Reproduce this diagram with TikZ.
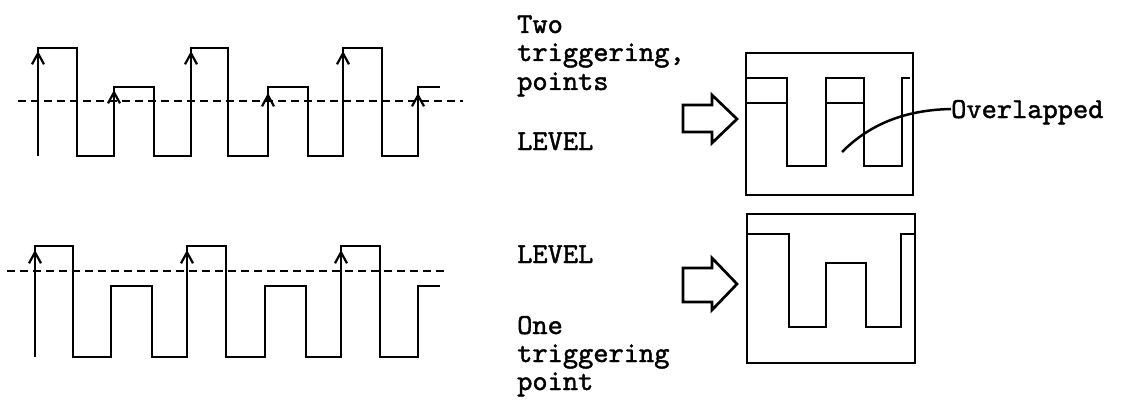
\documentclass[tikz,border=0pt]{standalone}
\usepackage{fontspec}
\newfontfamily\twfont{lmmono10-regular.otf}[FakeBold=1.5]
\usetikzlibrary{arrows.meta}
\begin{document}
\begin{tikzpicture}[x=1pt,y=-1pt,
  wave/.style={line width=2.5pt,line join=miter},
  lvl/.style={line width=2.5pt,dash pattern=on 8pt off 5pt},
  trig/.style={line width=2.5pt,-{Straight Barb[length=11pt,width=12pt,line width=2.2pt]}},
  frame/.style={line width=2.5pt},
  bigarrow/.style={line width=2.7pt,line join=miter},
  lbl/.style={anchor=base west,inner sep=0pt,font=\twfont\fontsize{29}{29}\selectfont},
  lead/.style={line width=2.5pt}]
\useasboundingbox (0,0) rectangle (1129,401);
% ---------- top waveform ----------
\draw[lvl] (18,101) -- (463,101);
\draw[wave] (38,156) -- (38,48) -- (77,48) -- (77,156) -- (114,156) -- (114,87) -- (154,87) -- (154,156)
  -- (191,156) -- (191,48) -- (228,48) -- (228,156) -- (268,156) -- (268,87) -- (308,87) -- (308,156)
  -- (343,156) -- (343,48) -- (382,48) -- (382,156) -- (418,156) -- (418,87) -- (440,87);
\draw[trig] (38,75) -- (38,51);
\draw[trig] (191,75) -- (191,51);
\draw[trig] (343,75) -- (343,51);
\draw[trig] (114,110) -- (114,90);
\draw[trig] (268,110) -- (268,93);
\draw[trig] (418,110) -- (418,93);
% ---------- bottom waveform ----------
\draw[lvl] (7,271) -- (447,271);
\draw[wave] (35,357) -- (35,246) -- (73,246) -- (73,357) -- (111,357) -- (111,286) -- (152,286) -- (152,357)
  -- (187,357) -- (187,246) -- (226,246) -- (226,357) -- (265,357) -- (265,286) -- (306,286) -- (306,357)
  -- (341,357) -- (341,246) -- (380,246) -- (380,357) -- (418,357) -- (418,286) -- (440,286);
\draw[trig] (35,275) -- (35,250);
\draw[trig] (187,275) -- (187,250);
\draw[trig] (341,275) -- (341,250);
% ---------- texts ----------
\node[lbl] (two) at (517,33) {Two};
\node[lbl] (trig1) at (517,61) {triggering,};
\node[lbl] (pts) at (517,90) {points};
\node[lbl] (lev1) at (517,150) {LEVEL};
\node[lbl] (lev2) at (517,263) {LEVEL};
\node[lbl] (one) at (517,334) {One};
\node[lbl] (trig2) at (517,362) {triggering};
\node[lbl] (pt) at (517,390) {point};
% ---------- block arrows ----------
\draw[bigarrow] (683,105) -- (712,105) -- (712,95) -- (737,119) -- (712,143) -- (712,132) -- (683,132) -- cycle;
\draw[bigarrow] (683,268) -- (712,268) -- (712,258) -- (737,284) -- (712,310) -- (712,302) -- (683,302) -- cycle;
% ---------- top screen ----------
\draw[frame] (746,53) rectangle (913,195);
\draw[wave] (746,78) -- (787,78) -- (787,166) -- (826,166) -- (826,78) -- (864,78) -- (864,166) -- (902,166) -- (902,78) -- (910,78);
\draw[wave] (746,103) -- (787,103);
\draw[wave] (826,103) -- (864,103);
\node[lbl] (ovl) at (951,118) {Overlapped};
\coordinate (ovlstart) at (842,152);
\draw[lead] (ovlstart) .. controls (870,124) and (905,110) .. (ovl.west |- 0,109);
% ---------- bottom screen ----------
\draw[frame] (747,214) rectangle (915,363);
\draw[wave] (747,234) -- (789,234) -- (789,327) -- (826,327) -- (826,263) -- (866,263) -- (866,327) -- (901,327) -- (901,234) -- (915,234);
\end{tikzpicture}
\end{document}
